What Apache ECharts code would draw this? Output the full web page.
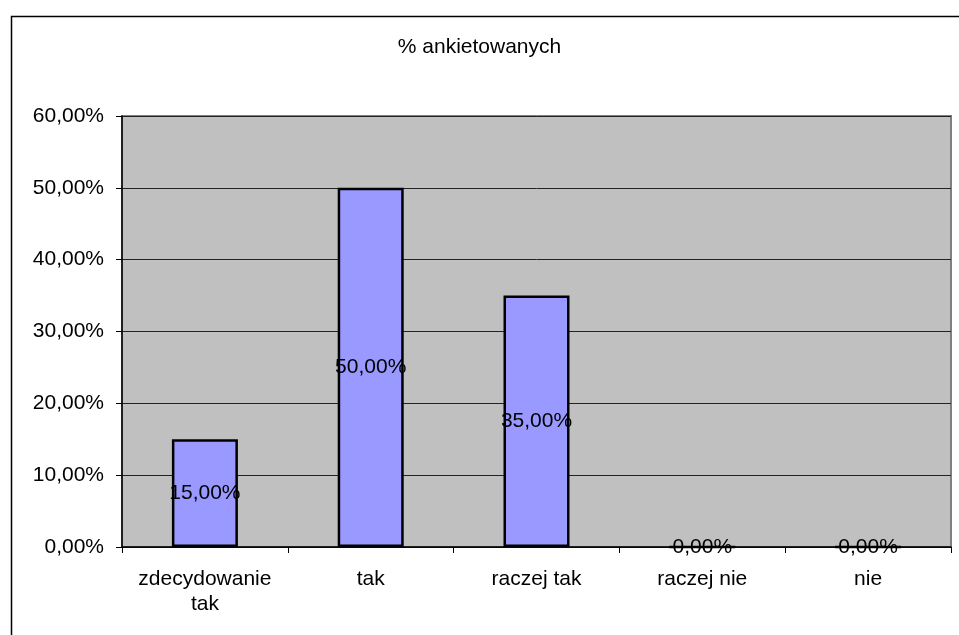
<!DOCTYPE html>
<html>
<head>
<meta charset="utf-8">
<script src="https://cdn.jsdelivr.net/npm/echarts@6/dist/echarts.min.js"></script>
<style>
html,body{margin:0;padding:0;background:#fff;}
#chart{width:959px;height:635px;}
</style>
</head>
<body>
<div id="chart"></div>
<script>
const titleText = '% ankietowanych';
const categories = ['zdecydowanie\ntak', 'tak', 'raczej tak', 'raczej nie', 'nie'];
const values = [0.15, 0.50, 0.35, 0, 0];
const yTicks = { min: 0, max: 0.6, interval: 0.1 };

function pct(v) {
  return (v * 100).toFixed(2).replace('.', ',') + '%';
}

const chart = echarts.init(document.getElementById('chart'), null, { renderer: 'canvas' });
const font = 'Liberation Sans, Arial, sans-serif';
const fs = 21;
chart.setOption({
  animation: false,
  backgroundColor: '#ffffff',
  graphic: [{
    type: 'rect',
    left: 9, top: 14,
    shape: { width: 980, height: 660 },
    style: { fill: 'none', stroke: '#000', lineWidth: 1.5 },
    silent: true,
    z: -1
  }],
  title: {
    text: titleText,
    left: 'center',
    top: 32,
    textStyle: { fontFamily: font, fontSize: fs, fontWeight: 'normal', color: '#000' }
  },
  grid: {
    left: 122, right: 8, top: 116, bottom: 88,
    show: true,
    backgroundColor: '#C0C0C0',
    borderColor: '#808080',
    borderWidth: 2
  },
  xAxis: {
    type: 'category',
    data: categories,
    boundaryGap: true,
    axisLine: { show: true, lineStyle: { color: '#000', width: 1.5 } },
    axisTick: { show: true, alignWithLabel: false, length: 6, lineStyle: { color: '#000' } },
    axisLabel: { fontFamily: font, fontSize: fs, color: '#000', margin: 20, lineHeight: 25, interval: 0 }
  },
  yAxis: {
    type: 'value',
    min: yTicks.min, max: yTicks.max, interval: yTicks.interval,
    axisLine: { show: true, lineStyle: { color: '#000', width: 1.5 } },
    axisTick: { show: true, length: 6, lineStyle: { color: '#000' } },
    axisLabel: { fontFamily: font, fontSize: fs, color: '#000', margin: 18, formatter: pct },
    splitLine: { show: true, lineStyle: { color: '#222', width: 1 } }
  },
  series: [{
    type: 'bar',
    data: values,
    barWidth: 66,
    itemStyle: { color: '#9999FF', borderColor: '#000', borderWidth: 2.5 },
    label: {
      show: true,
      position: 'inside',
      formatter: p => pct(p.value),
      fontFamily: font, fontSize: fs, color: '#000'
    }
  }]
});
</script>
</body>
</html>
